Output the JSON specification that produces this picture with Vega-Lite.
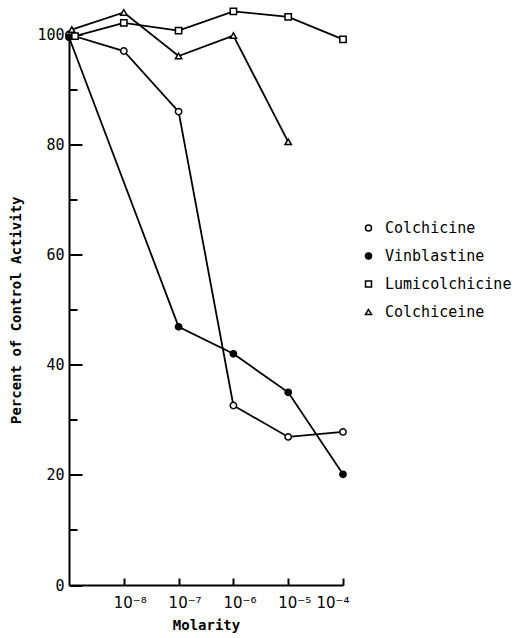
{
  "$schema": "https://vega.github.io/schema/vega-lite/v6.json",
  "autosize": {"type": "none"},
  "padding": {"left": 69, "top": 34.5, "right": 175, "bottom": 53},
  "width": 274,
  "height": 550.5,
  "background": "white",
  "config": {
    "view": {"stroke": null},
    "font": "DejaVu Sans Mono",
    "axis": {
      "domainColor": "black", "domainWidth": 2, "tickColor": "black", "tickWidth": 2,
      "labelColor": "black", "titleColor": "black", "grid": false,
      "labelFont": "DejaVu Sans Mono", "titleFont": "DejaVu Sans Mono",
      "labelFontSize": 15, "titleFontSize": 14, "titleFontWeight": "bold"
    },
    "legend": {"labelFont": "DejaVu Sans Mono", "labelFontSize": 15, "labelColor": "black"}
  },
  "data": {
    "values": [
      {"drug": "Colchicine", "logM": -9, "pct": 100},
      {"drug": "Colchicine", "logM": -8, "pct": 97},
      {"drug": "Colchicine", "logM": -7, "pct": 86},
      {"drug": "Colchicine", "logM": -6, "pct": 32.6},
      {"drug": "Colchicine", "logM": -5, "pct": 26.9},
      {"drug": "Colchicine", "logM": -4, "pct": 27.8},
      {"drug": "Vinblastine", "logM": -9, "pct": 99.5},
      {"drug": "Vinblastine", "logM": -7, "pct": 46.9},
      {"drug": "Vinblastine", "logM": -6, "pct": 42},
      {"drug": "Vinblastine", "logM": -5, "pct": 35},
      {"drug": "Vinblastine", "logM": -4, "pct": 20.1},
      {"drug": "Lumicolchicine", "logM": -8.89, "pct": 99.7},
      {"drug": "Lumicolchicine", "logM": -8, "pct": 102.1},
      {"drug": "Lumicolchicine", "logM": -7, "pct": 100.7},
      {"drug": "Lumicolchicine", "logM": -6, "pct": 104.2},
      {"drug": "Lumicolchicine", "logM": -5, "pct": 103.2},
      {"drug": "Lumicolchicine", "logM": -4, "pct": 99.1},
      {"drug": "Colchiceine", "logM": -8.95, "pct": 100.9},
      {"drug": "Colchiceine", "logM": -8, "pct": 104},
      {"drug": "Colchiceine", "logM": -7, "pct": 96.1},
      {"drug": "Colchiceine", "logM": -6, "pct": 99.8},
      {"drug": "Colchiceine", "logM": -5, "pct": 80.5}
    ]
  },
  "encoding": {
    "x": {
      "field": "logM", "type": "quantitative",
      "scale": {"domain": [-9, -4], "nice": false, "zero": false},
      "axis": {
        "values": [-8, -7, -6, -5, -4],
        "tickSize": -7,
        "labelPadding": 17,
        "labelOffset": 6,
        "labelFont": "DejaVu Sans",
        "labelFontSize": 15,
        "labelOverlap": false,
        "labelBaseline": "top",
        "labelExpr": "'10' + (datum.value == -8 ? '⁻⁸' : datum.value == -7 ? '⁻⁷' : datum.value == -6 ? '⁻⁶' : datum.value == -5 ? '⁻⁵' : '⁻⁴')",
        "title": "Molarity",
        "titlePadding": 8
      }
    },
    "y": {
      "field": "pct", "type": "quantitative",
      "scale": {"domain": [0, 100], "nice": false, "zero": true},
      "axis": {
        "values": [0, 10, 20, 30, 40, 50, 60, 70, 80, 90, 100],
        "tickSize": {"condition": {"test": "datum.value % 20 === 0", "value": -13}, "value": -8},
        "labelPadding": 18,
        "labelOverlap": false,
        "labelExpr": "datum.value % 20 === 0 ? datum.label : ''",
        "title": "Percent of Control Activity",
        "titlePadding": 13
      }
    }
  },
  "layer": [
    {
      "mark": {"type": "line", "color": "black", "strokeWidth": 1.8},
      "encoding": {"detail": {"field": "drug"}}
    },
    {
      "mark": {"type": "point", "stroke": "black", "strokeWidth": 1.5, "opacity": 1, "size": 40},
      "encoding": {
        "shape": {
          "field": "drug", "type": "nominal",
          "scale": {"domain": ["Colchicine", "Vinblastine", "Lumicolchicine", "Colchiceine"], "range": ["circle", "circle", "square", "triangle-up"]},
          "legend": {"title": null, "orient": "none", "legendX": 292, "legendY": 186, "rowPadding": 12, "labelOffset": 9, "symbolStrokeWidth": 1.5, "symbolSize": 36}
        },
        "fill": {
          "field": "drug", "type": "nominal",
          "scale": {"domain": ["Colchicine", "Vinblastine", "Lumicolchicine", "Colchiceine"], "range": ["white", "black", "white", "white"]},
          "legend": {"title": null, "orient": "none", "legendX": 292, "legendY": 186, "rowPadding": 12, "labelOffset": 9, "symbolStrokeWidth": 1.5, "symbolSize": 36}
        }
      }
    }
  ]
}
